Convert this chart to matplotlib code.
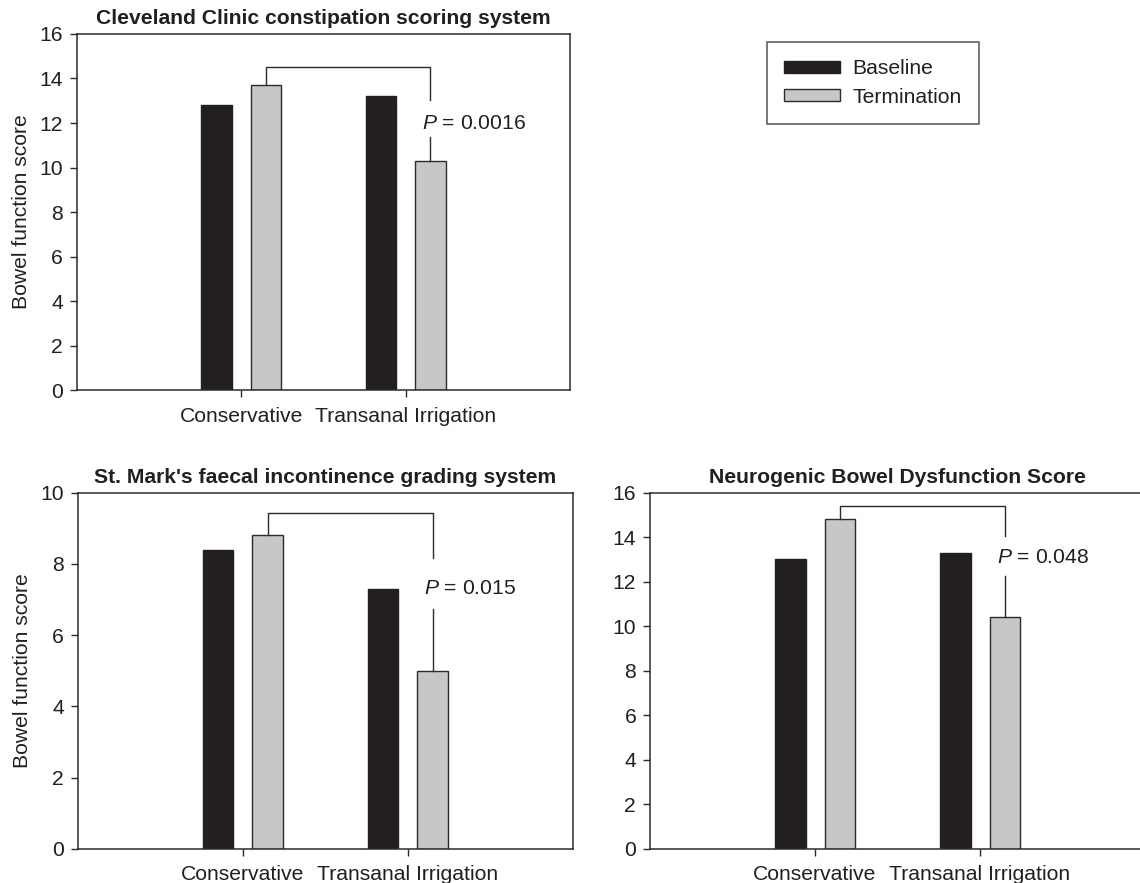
import numpy as np
import matplotlib.pyplot as plt

plt.rcParams['font.family'] = ['Liberation Sans', 'DejaVu Sans']
plt.rcParams['mathtext.fontset'] = 'custom'
plt.rcParams['mathtext.rm'] = 'Liberation Sans'
plt.rcParams['mathtext.it'] = 'Liberation Sans:italic'

# data
groups = ['Conservative', 'Transanal Irrigation']
titles = ['Cleveland Clinic constipation scoring system',
          "St. Mark's faecal incontinence grading system",
          'Neurogenic Bowel Dysfunction Score']
baseline = [[12.8, 13.2], [8.4, 7.3], [13.0, 13.3]]
termination = [[13.7, 10.3], [8.8, 5.0], [14.8, 10.4]]
pvals = ['0.0016', '0.015', '0.048']
ymax = [16, 10, 16]
ystep = [2, 2, 2]
# bracket: top, end of right drop, p text height, start of lower line
brackets = [[14.5, 13.05, 12.0, 11.36],
            [9.42, 8.16, 7.32, 6.72],
            [15.4, 14.04, 13.08, 12.26]]

dark = '#231f20'
grey = '#c6c7c9'
edge = '#2b2b2b'
fs = 15.2

fig = plt.figure(figsize=(11.4, 8.83), dpi=100)
boxes = [[0.0675, 0.5583, 0.4325, 0.4032],
         [0.0684, 0.0388, 0.4342, 0.4032],
         [0.5702, 0.0388, 0.4342, 0.4032]]

x = np.arange(1, len(groups) + 1)
off = 0.15
w = 0.185
for i in range(3):
    ax = fig.add_axes(boxes[i])
    b1 = ax.bar(x - off, baseline[i], width=w, color=dark, edgecolor=dark,
                linewidth=1.0, label='Baseline')
    b2 = ax.bar(x + off, termination[i], width=w, color=grey, edgecolor=edge,
                linewidth=1.0, label='Termination')
    ax.set_xlim(0, 3)
    ax.set_ylim(0, ymax[i])
    ax.set_yticks(np.arange(0, ymax[i] + 1, ystep[i]))
    ax.set_xticks(x)
    ax.set_xticklabels(groups)
    ax.tick_params(direction='out', length=5, width=1, colors=edge,
                   labelsize=fs, labelcolor=dark)
    ax.tick_params(axis='x', pad=7)
    ax.tick_params(axis='y', pad=5)
    for s in ax.spines.values():
        s.set_color(edge)
        s.set_linewidth(1.1)
    ax.set_title(titles[i], fontsize=fs, fontweight='bold', color=dark, pad=7)
    if i < 2:
        ax.set_ylabel('Bowel function score', fontsize=fs, color=dark, labelpad=6)

    # significance bracket
    top, drop, ty, low = brackets[i]
    xl = x[0] + off
    xr = x[1] + off
    ax.plot([xl, xl, xr, xr], [termination[i][0], top, top, drop],
            color=edge, linewidth=1.0)
    ax.plot([xr, xr], [low, termination[i][1]], color=edge, linewidth=1.0)
    ax.text(xr - 0.05, ty, r'$\mathit{P}$ = ' + pvals[i], fontsize=fs,
            color=dark, ha='left', va='center')

    if i == 0:
        handles = [b1, b2]

leg = fig.legend(handles, ['Baseline', 'Termination'], loc='upper left',
                 bbox_to_anchor=(766.7 / 1140, 1 - 42.3 / 883),
                 fontsize=fs, frameon=True, fancybox=False, shadow=False,
                 handlelength=2.65, handleheight=0.5, handletextpad=0.62,
                 borderpad=0.8, labelspacing=0.45, borderaxespad=0)
leg.get_frame().set_edgecolor(edge)
leg.get_frame().set_linewidth(1.1)
for t in leg.get_texts():
    t.set_color(dark)

fig.savefig('out.png', dpi=100)
